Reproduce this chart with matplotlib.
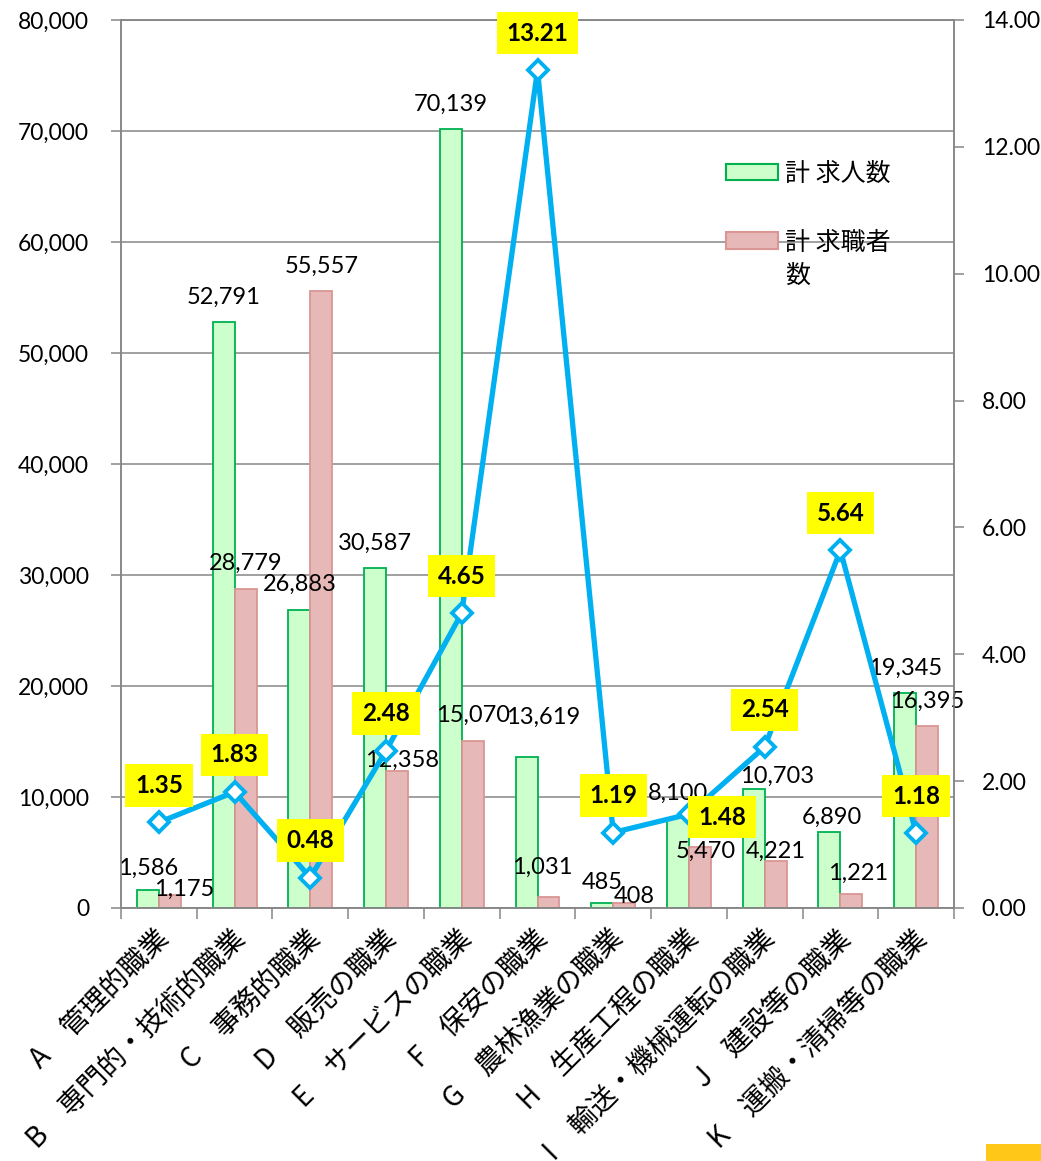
import numpy as np
import matplotlib
matplotlib.use('Agg')
import matplotlib.pyplot as plt
from matplotlib.patches import Patch, Rectangle
from matplotlib.ticker import FuncFormatter

plt.rcParams['font.family'] = ['Lato', 'Noto Sans CJK JP', 'DejaVu Sans']

# data
categories = ['A　管理的職業', 'B　専門的・技術的職業', 'C　事務的職業', 'D　販売の職業',
              'E　サービスの職業', 'F　保安の職業', 'G　農林漁業の職業', 'H　生産工程の職業',
              'I　輸送・機械運転の職業', 'J　建設等の職業', 'K　運搬・清掃等の職業']
job_offers = [1586, 52791, 26883, 30587, 70139, 13619, 485, 8100, 10703, 6890, 19345]
job_seekers = [1175, 28779, 55557, 12358, 15070, 1031, 408, 5470, 4221, 1221, 16395]
ratio = [1.35, 1.83, 0.48, 2.48, 4.65, 13.21, 1.19, 1.48, 2.54, 5.64, 1.18]
legend_labels = ['計 求人数', '計 求職者数']

# label nudges in pixels (dx, dy)
offer_nudge = [(0, -3), (0, 0), (0, 0), (0, 0), (0, 0), (17, 14), (0, -5), (0, 0), (23, -12), (2, -11), (0, 0)]
seeker_nudge = [(14, -19), (0, 0), (0, 0), (5, -15), (0, 0), (-6, 4), (10, -18), (6, -29), (0, -15), (7, -4), (0, 0)]
ratio_side = ['up'] * 7 + ['right'] + ['up'] * 3

green_face, green_edge = '#CCFFCC', '#00B050'
red_face, red_edge = '#E6B9B8', '#D99694'
line_col = '#00B0F0'
grid_col = '#868686'
cjk = ['Noto Sans CJK JP', 'DejaVu Sans']

fig = plt.figure(figsize=(10.41, 11.61), dpi=100)
ax = fig.add_axes([121 / 1041, 253 / 1161, 833 / 1041, 888 / 1161])
ax2 = ax.twinx()

x = np.arange(len(categories))
w = 0.29
ax.bar(x - w / 2, job_offers, w, color=green_face, edgecolor=green_edge, linewidth=1.3, zorder=2)
ax.bar(x + w / 2, job_seekers, w, color=red_face, edgecolor=red_edge, linewidth=1.3, zorder=2)

for i in range(len(x)):
    dx, dy = offer_nudge[i]
    ax.annotate(f'{job_offers[i]:,}', (x[i] - w / 2, job_offers[i]), xytext=(dx, 25 + dy),
                textcoords='offset pixels', ha='center', va='center', fontsize=17, zorder=3)
    dx, dy = seeker_nudge[i]
    ax.annotate(f'{job_seekers[i]:,}', (x[i] + w / 2, job_seekers[i]), xytext=(dx, 25 + dy),
                textcoords='offset pixels', ha='center', va='center', fontsize=17, zorder=3)

ax.set_xlim(-0.5, len(x) - 0.5)
ax.set_ylim(0, 80000)
ax.set_yticks(np.arange(0, 80001, 10000))
ax.yaxis.set_major_formatter(FuncFormatter(lambda v, p: f'{v:,.0f}'))
ax.yaxis.grid(True, color=grid_col, linewidth=1.1)
ax.set_axisbelow(True)

# category ticks at the boundaries, labels at the centres
ax.set_xticks(np.arange(-0.5, len(x), 1))
ax.set_xticklabels([])
ax.set_xticks(x + 0.08, categories, minor=True)
ax.tick_params(axis='x', which='major', length=8, width=1.1, color=grid_col)
ax.tick_params(axis='x', which='minor', length=0, pad=19)
for lab in ax.get_xticklabels(minor=True):
    lab.set_rotation(45)
    lab.set_ha('right')
    lab.set_va('center')
    lab.set_rotation_mode('anchor')
    lab.set_fontsize(20)
    lab.set_family(cjk)
ax.tick_params(axis='y', length=7, width=1.1, color=grid_col, pad=16, labelsize=16.5)

# ratio line
ax2.plot(x, ratio, color=line_col, linewidth=3.8, marker='D', markersize=10.5,
         markerfacecolor='white', markeredgecolor=line_col, markeredgewidth=2.8, zorder=4)
for i in range(len(x)):
    off = (0, 37) if ratio_side[i] == 'up' else (33, -3)
    ax2.annotate(f'{ratio[i]:.2f}', (x[i], ratio[i]), xytext=off, textcoords='offset pixels',
                 ha='center', va='center', fontsize=17.5, fontweight='bold', zorder=5,
                 bbox=dict(boxstyle='square,pad=0.4', fc='#FFFF00', ec='none'))
ax2.set_ylim(0, 14)
ax2.set_yticks(np.arange(0, 14.01, 2))
ax2.yaxis.set_major_formatter(FuncFormatter(lambda v, p: f'{v:.2f}'))
ax2.tick_params(axis='y', length=7, width=1.1, color=grid_col, pad=13, labelsize=16.5)

for a in (ax, ax2):
    for s in a.spines.values():
        s.set_color(grid_col)
        s.set_linewidth(1.1)

# legend
handles = [Patch(facecolor=green_face, edgecolor=green_edge, linewidth=1.5),
           Patch(facecolor=red_face, edgecolor=red_edge, linewidth=1.5)]
leg = ax2.legend(handles, [legend_labels[0], legend_labels[1][:-1]], loc='upper left',
                 bbox_to_anchor=(726 / 1041, 1 - 161 / 1161), bbox_transform=fig.transFigure,
                 frameon=False, prop={'family': cjk, 'size': 18}, handlelength=2.08,
                 handleheight=0.64, handletextpad=0.28, labelspacing=1.7,
                 borderpad=0, borderaxespad=0)
fig.text(785 / 1041, 1 - 276 / 1161, legend_labels[1][-1], fontsize=18, family=cjk,
         ha='left', va='center')

fig.add_artist(Rectangle((986 / 1041, 0), 55 / 1041, 17 / 1161, transform=fig.transFigure,
                         facecolor='#FFC819', edgecolor='none'))

fig.savefig('out.png', dpi=100)
